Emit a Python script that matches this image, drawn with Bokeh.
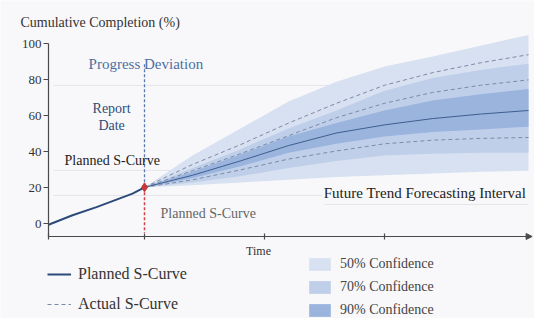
from bokeh.plotting import figure
from bokeh.models import Range1d, FixedTicker, Label, Legend, LegendItem, Arrow, NormalHead
from bokeh.embed import file_html
from bokeh.resources import INLINE

# ---------------- data ----------------
progress_t = [0, 1, 2, 3, 3.5, 4]
progress_v = [-0.5, 4.8, 9.3, 14.3, 16.8, 20.3]

fc_t = [4, 6, 8, 10, 12, 14, 16, 18, 20]
top50 = [20.3, 38, 53, 68, 79, 87.5, 93, 99, 105]
bot50 = [20.3, 21.5, 23, 24.5, 26, 27, 28, 29, 29.5]
top70 = [20.3, 31, 41.5, 53, 63, 74, 81, 85.5, 89]
bot70 = [20.3, 23, 26.5, 31, 35, 38, 39, 39.5, 39.5]
top90 = [20.3, 29, 38.5, 48.5, 56, 63, 68.5, 72, 75]
bot90 = [20.3, 25.5, 32, 39.5, 44.5, 48.5, 51, 52.5, 54]
center = [20.3, 27, 35, 43.5, 50.5, 55, 58.5, 61, 63]
dash_hi = [20.3, 33, 44, 56, 67, 77, 84, 89.5, 94]
dash_mid = [20.3, 29.5, 39, 49, 59, 67, 73, 77, 80]
dash_lo = [20.3, 24.5, 30, 36, 40.5, 44.5, 46.5, 47.5, 48]

report_t = [4, 4]
deviation_v = [20.3, 89]
below_v = [20.3, -5]
report_point = ([4], [20.3])

y_ticks = [0, 20, 40, 60, 80, 100]
x_ticks = [0, 4, 9, 14]

guide_y = [76.9, 29.7, 15.8, 10.8]
guide_x0 = [0.2, 0.2, 0.2, 11.5]
guide_x1 = [12.0, 9.0, 11.4, 20.0]

band_labels = ["50% Confidence", "70% Confidence", "90% Confidence"]
line_labels = ["Planned S-Curve", "Actual S-Curve"]

# ---------------- style ----------------
FONT = "Liberation Serif"
BG = "#f8f8fa"
AX = "#4a4a4a"
NAVY = "#2c4a7a"
C50 = "#d8e1f1"
C70 = "#bfcfea"
C90 = "#9ab4de"
DASH = "#7d8aa3"

p = figure(width=534, height=318,
           x_range=Range1d(-2, 20.25), y_range=Range1d(-52.56, 124.1),
           output_backend="svg", toolbar_location=None,
           min_border=0, min_border_left=0, min_border_right=0,
           min_border_top=0, min_border_bottom=0,
           background_fill_color=BG, border_fill_color=BG,
           outline_line_color=None)
p.grid.visible = False

# axes (fixed inside the frame)
p.yaxis.fixed_location = 0
p.yaxis.ticker = FixedTicker(ticks=y_ticks)
p.yaxis.bounds = (-7, 100)
p.yaxis.minor_tick_line_color = None
p.yaxis.major_tick_in = 0
p.yaxis.major_tick_out = 5
p.yaxis.major_label_standoff = 2
p.yaxis.axis_line_color = AX
p.yaxis.axis_line_width = 1.2
p.yaxis.major_tick_line_color = AX
p.yaxis.major_label_text_font = FONT
p.yaxis.major_label_text_font_size = "13px"
p.yaxis.major_label_text_color = "#333333"

p.xaxis.fixed_location = -7
p.xaxis.ticker = FixedTicker(ticks=[], minor_ticks=x_ticks)
p.xaxis.bounds = (0, 20.0)
p.xaxis.major_tick_line_color = None
p.xaxis.minor_tick_in = 3
p.xaxis.minor_tick_out = 3
p.xaxis.minor_tick_line_color = AX
p.xaxis.minor_tick_line_width = 1.2
p.xaxis.axis_line_color = AX
p.xaxis.axis_line_width = 1.2

p.add_layout(Arrow(end=NormalHead(size=6, fill_color=AX, line_color=AX),
                   x_start=19.9, y_start=-7, x_end=20.15, y_end=-7,
                   line_color=AX, line_width=1.2))

# faint guide lines
p.segment(x0=guide_x0, y0=guide_y, x1=guide_x1, y1=guide_y,
          line_color="#e3e5ea", line_width=1)

# bands
r50 = p.varea(x=fc_t, y1=bot50, y2=top50, fill_color=C50)
r70 = p.varea(x=fc_t, y1=bot70, y2=top70, fill_color=C70)
r90 = p.varea(x=fc_t, y1=bot90, y2=top90, fill_color=C90)

# dashed forecast lines
r_dhi = p.line(fc_t, dash_hi, line_color=DASH, line_dash="4 3", line_width=1)
p.line(fc_t, dash_mid, line_color=DASH, line_dash="4 3", line_width=1)
p.line(fc_t, dash_lo, line_color=DASH, line_dash="4 3", line_width=1)
p.line(fc_t, center, line_color="#3f5d8f", line_width=1)

# progress line
r_prog = p.line(progress_t, progress_v, line_color=NAVY, line_width=2)

# report-date lines
p.line(report_t, deviation_v, line_color="#5b7bb0", line_dash="3 2", line_width=1.3)
p.line(report_t, below_v, line_color="#d0434a", line_dash="3 2", line_width=1.5)
p.scatter(x=report_point[0], y=report_point[1], marker="diamond", size=9,
          fill_color="#c8373a", line_color="#c8373a")


def lab(x, y, text, size, color, align="left", baseline="middle"):
    p.add_layout(Label(x=x, y=y, text=text, text_font=FONT,
                       text_font_size=f"{size}px", text_color=color,
                       text_align=align, text_baseline=baseline))


lab(-1.17, 111.9, "Cumulative Completion (%)", 14, "#333333")
lab(1.67, 89.1, "Progress Deviation", 15, "#4d6fa3")
lab(2.63, 64.1, "Report", 14, "#2f4d78", align="center")
lab(2.63, 54.7, "Date", 14, "#2f4d78", align="center")
lab(0.67, 35.2, "Planned S-Curve", 14, "#222222")
lab(4.67, 5.8, "Planned S-Curve", 14, "#666666")
lab(19.9, 16.9, "Future Trend Forecasting Interval", 15, "#222222", align="right")
lab(8.75, -14.8, "Time", 12, "#333333", align="center")

leg1 = Legend(items=[LegendItem(label=line_labels[0], renderers=[r_prog]),
                     LegendItem(label=line_labels[1], renderers=[r_dhi])],
              location=(47, 5), orientation="vertical",
              glyph_width=24, glyph_height=18, label_height=18, spacing=12,
              padding=0, margin=0, border_line_color=None,
              background_fill_alpha=0, label_text_font=FONT,
              label_text_font_size="16px", label_text_color="#333333",
              label_standoff=7)
p.add_layout(leg1)

leg2 = Legend(items=[LegendItem(label=band_labels[0], renderers=[r50]),
                     LegendItem(label=band_labels[1], renderers=[r70]),
                     LegendItem(label=band_labels[2], renderers=[r90])],
              location=(306, 0), orientation="vertical",
              glyph_width=27, glyph_height=16, label_height=16, spacing=7,
              padding=0, margin=0, border_line_color=None,
              background_fill_alpha=0, label_text_font=FONT,
              label_text_font_size="14px", label_text_color="#444444",
              label_standoff=7)
p.add_layout(leg2)

open("out.html", "w").write(file_html(p, INLINE))
